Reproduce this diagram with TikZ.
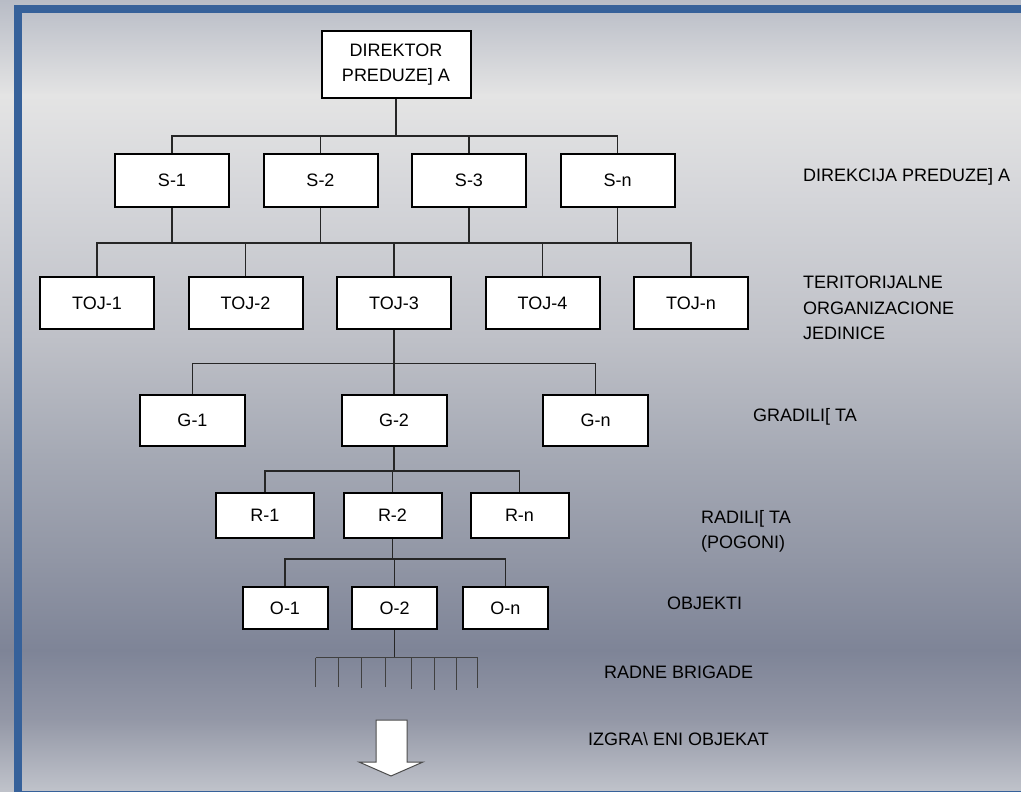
\documentclass[tikz,border=0pt]{standalone}
\usepackage{fontspec}
\setmainfont{Liberation Sans}
\definecolor{frameblue}{HTML}{36619A}
\definecolor{bgA}{HTML}{B8BCC6}
\definecolor{bgB}{HTML}{E4E4E4}
\definecolor{bgC}{HTML}{D4D5D9}
\definecolor{bgD}{HTML}{BEC0C7}
\definecolor{bgE}{HTML}{A6AAB5}
\definecolor{bgF}{HTML}{9196A5}
\definecolor{bgG}{HTML}{7E8497}
\definecolor{bgH}{HTML}{9498A7}
\definecolor{bgI}{HTML}{C0C3CB}
\begin{document}
\begin{tikzpicture}[x=1pt,y=-1pt,
  box/.style={draw=black, line width=2pt, fill=white, inner sep=0pt, align=center,
    font=\fontsize{18}{25.7}\selectfont},
  conn/.style={draw=black!85, line width=1.2pt},
  thinconn/.style={draw=black!75, line width=0.9pt},
  lbl/.style={inner sep=0pt, align=left, font=\fontsize{18}{25.5}\selectfont},
  arrowshape/.style={draw=black!70, line width=1pt, fill=white, line join=miter}]
\useasboundingbox (0,0) rectangle (1021,792);
% background
\begin{scope}
\clip (0,0) rectangle (1021,792);
\shade[top color=bgA, bottom color=bgB] (0,0) rectangle (1021,96);
\shade[top color=bgB, bottom color=bgC] (0,95) rectangle (1021,201);
\shade[top color=bgC, bottom color=bgD] (0,200) rectangle (1021,341);
\shade[top color=bgD, bottom color=bgE] (0,340) rectangle (1021,451);
\shade[top color=bgE, bottom color=bgF] (0,450) rectangle (1021,561);
\shade[top color=bgF, bottom color=bgG] (0,560) rectangle (1021,651);
\shade[top color=bgG, bottom color=bgH] (0,650) rectangle (1021,721);
\shade[top color=bgH, bottom color=bgI] (0,720) rectangle (1021,792);
\draw[frameblue, line width=8pt] (1040,9) -- (18,9) -- (18,795) -- (1040,795);
\end{scope}

% nodes
\node[box, minimum width=149pt, minimum height=67pt] (dir) at (396,64.5) {DIREKTOR\\PREDUZE]\ A};

\foreach \n/\x/\t in {s1/172/S-1, s2/320.5/S-2, s3/469/S-3, sn/617.5/S-n}
  \node[box, minimum width=114pt, minimum height=53pt] (\n) at (\x,180.5) {\t};

\foreach \n/\x/\t in {t1/97/TOJ-1, t2/245.5/TOJ-2, t3/394/TOJ-3, t4/542.5/TOJ-4, tn/691/TOJ-n}
  \node[box, minimum width=114pt, minimum height=52pt] (\n) at (\x,303) {\t};

\foreach \n/\x/\t in {g1/192.5/G-1, g2/394/G-2, gn/595.5/G-n}
  \node[box, minimum width=105pt, minimum height=51pt] (\n) at (\x,420) {\t};

\foreach \n/\x/\t in {r1/265/R-1, r2/392.5/R-2, rn/519.5/R-n}
  \node[box, minimum width=98pt, minimum height=45pt] (\n) at (\x,515.5) {\t};

\foreach \n/\x/\t in {o1/285/O-1, o2/394.7/O-2, on/505.3/O-n}
  \node[box, minimum width=85pt, minimum height=42pt] (\n) at (\x,608) {\t};

% bus levels
\coordinate (b0) at (0,136);
\coordinate (b1) at (0,243);
\coordinate (b2) at (0,363.5);
\coordinate (b3) at (0,471);
\coordinate (b4) at (0,559);
\coordinate (b5) at (0,657.7);

% connectors
\foreach \c in {s1,s2,s3,sn}
  \draw[conn] (dir.south) -- (dir.south |- b0) -| (\c.north);
\foreach \c in {s2,s3,sn}
  \draw[conn] (\c.south) -- (\c.south |- b1);
\foreach \c in {t1,t2,t3,t4,tn}
  \draw[conn] (s1.south) -- (s1.south |- b1) -| (\c.north);
\foreach \c in {g1,g2,gn}
  \draw[conn] (t3.south) -- (t3.south |- b2) -| (\c.north);
\foreach \c in {r1,r2,rn}
  \draw[conn] (g2.south) -- (g2.south |- b3) -| (\c.north);
\foreach \c in {o1,o2,on}
  \draw[conn] (r2.south) -- (r2.south |- b4) -| (\c.north);

% radne brigade
\draw[conn, line width=1.5pt] (o2.south) -- (o2.south |- b5);
\coordinate (bl) at (315.7,657.7);
\coordinate (br) at (477.7,657.7);
\draw[thinconn] (bl) -- (br);
\foreach \x/\y in {315.7/687, 338.3/687, 361/688, 385/687, 411.7/689, 434/690, 456/690, 477.7/688}
  \draw[thinconn] (\x,657.7) -- (\x,\y);

% output arrow
\draw[arrowshape] (376,720) -- (407,720) -- (407,762) -- (423,762) -- (391,776)
  -- (359,762) -- (376,762) -- cycle;

% labels
\node[lbl, anchor=base west] (l1) at (803,181.7) {DIREKCIJA PREDUZE]\ A};
\node[lbl, anchor=north west] (l2) at (803,276) {TERITORIJALNE\\ORGANIZACIONE\\JEDINICE};
\node[lbl, anchor=base west] (l3) at (753,421.7) {GRADILI[\ TA};
\node[lbl, anchor=north west] (l4) at (701,510) {RADILI[\ TA\\(POGONI)};
\node[lbl, anchor=base west] (l5) at (667,609) {OBJEKTI};
\node[lbl, anchor=base west] (l6) at (604,678) {RADNE BRIGADE};
\node[lbl, anchor=base west] (l7) at (588,745) {IZGRA\textbackslash\ ENI OBJEKAT};
\end{tikzpicture}
\end{document}
